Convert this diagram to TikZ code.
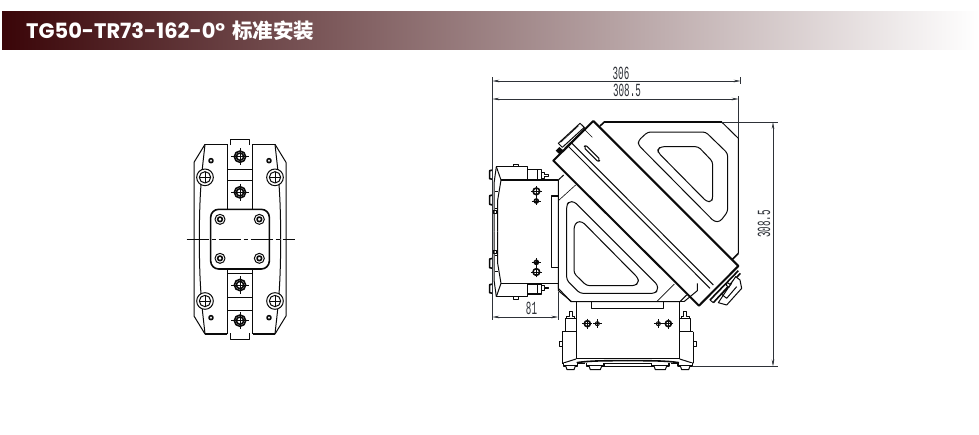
\documentclass[tikz,border=0pt]{standalone}
\usepackage{fontspec}
\setmainfont{Poppins}
\newfontfamily\cjk{Noto Sans CJK SC}
\newfontfamily\cad{Liberation Mono}
\usetikzlibrary{arrows.meta}
\definecolor{inkc}{HTML}{0A0A0A}
\definecolor{dimc}{HTML}{2E3238}
\definecolor{bandl}{HTML}{3A0508}
\newcommand\cadtxt[1]{\scalebox{.5}[1]{#1}}
\tikzset{
  thin line/.style={draw=inkc,line width=.6pt},
  mid line/.style={draw=inkc,line width=1pt},
  heavy line/.style={draw=inkc,line width=1.6pt},
  arm line/.style={draw=inkc,line width=2pt},
  dimline/.style={draw=dimc,line width=.6pt,{Stealth[length=7pt,width=2.6pt]}-{Stealth[length=7pt,width=2.6pt]}},
  extline/.style={draw=dimc,line width=.6pt},
  dimtext/.style={font=\cad\fontsize{18.5}{18.5}\selectfont,text=dimc,inner sep=0pt},
  zoneA/.style={shift={(170,130)},scale=1/3},
  zoneB/.style={shift={(545,110)},scale=1/3},
  zoneC/.style={shift={(485,150)},scale=1/3},
  zoneD/.style={shift={(485,220)},scale=1/3}
}
\begin{document}
\begin{tikzpicture}[x=1pt,y=-1pt,line join=round]
\useasboundingbox (0,0) rectangle (979,434);
\fill[white] (0,0) rectangle (979,434);
\shade[left color=bandl,right color=white] (2,11) rectangle (979,49);
\node[anchor=west,inner sep=0pt,text=white,font=\bfseries\fontsize{21}{21}\selectfont] (title) at (26,31) {TG50-TR73-162-0°\hspace{7pt}{\cjk\fontsize{20.5}{20.5}\selectfont 标准安装}};

%% ---------- front view ----------
\begin{scope}[zoneA]
  \draw[mid line] (182,45) -- (182,28) -- (238,28) -- (238,45);
  \draw[mid line] (182,610) -- (182,627) -- (238,627) -- (238,610);
  \draw[heavy line] (172,43) -- (172,238) (248,43) -- (248,238);
  \draw[heavy line] (172,417) -- (172,612) (248,417) -- (248,612);
  \draw[thin line] (172,118) -- (248,118) (172,503) -- (248,503);
  \draw[mid line] (172,152) -- (248,152) (172,430) -- (248,430) (172,540) -- (248,540);
  \foreach \sx/\ox in {1/0,-1/420}{
    \foreach \sy/\oy in {1/0,-1/655}{
      \begin{scope}[shift={(\ox,\oy)},xscale=\sx,yscale=\sy]
        \draw[heavy line] (172,43) -- (105,43);
        \draw[mid line] (105,43) -- (72,97) -- (72,327);
        \draw[mid line] (105,43) .. controls (98,110) and (88,170) .. (88,327);
        \draw[fill=white,mid line] (105,142) circle[radius=25];
        \draw[mid line] (105,142) circle[radius=17];
        \draw[thin line] (88,142) -- (122,142) (105,125) -- (105,159);
        \draw[heavy line] (123,92) circle[radius=6];
      \end{scope}
    }
  }
  \draw[heavy line,fill=white,rounded corners=8pt] (122,238) rectangle (298,417);
  \foreach \px/\py in {150/268,268/268,150/385,268/385}{
    \draw[mid line] (\px,\py) circle[radius=15];
    \draw[heavy line] (\px,\py) circle[radius=7];
  }
  \foreach \py in {80,187,465,572}{
    \draw[heavy line] (210,\py) circle[radius=17];
    \draw[heavy line] (210,\py) circle[radius=11];
    \draw[thin line] (184,\py) -- (236,\py) (210,\py-26) -- (210,\py+26);
  }
  \draw[draw=inkc,line width=.7pt,dash pattern=on 22pt off 3pt on 4pt off 3pt] (50,327) -- (375,327);
\end{scope}

%% ---------- side view: plates and arm ----------
\begin{scope}[zoneB]
  \draw[heavy line] (178,36) -- (530,36);
  \draw[mid line] (530,36) -- (580,85) -- (580,430);
  \draw[heavy line] (580,430) -- (560,450);
  \draw[heavy line] (178,36) -- (165,48);
  % upper window
  \draw[mid line,rounded corners=3pt] (308,66) -- (482,66) -- (548,130) -- (548,305) -- (525,335) -- (508,335) -- (280,105) -- (280,92) -- cycle;
  \draw[mid line,rounded corners=3pt] (348,110) -- (460,110) -- (503,155) -- (503,262) -- (500,275) -- (485,275) -- (340,128) -- (338,118) -- cycle;
  % lower plate
  \draw[mid line] (40,210) -- (56,195);
  \draw[mid line] (40,210) -- (40,535) -- (78,575) -- (405,575) -- (425,555);
  \draw[thin line] (40,272) -- (92,225) (335,575) -- (388,522);
  \draw[heavy line] (40,258) -- (20,258) -- (20,472) -- (40,472);
  \draw[heavy line] (140,575) -- (140,595) -- (355,595) -- (355,575);
  % lower window
  \draw[mid line,rounded corners=3pt] (88,275) -- (338,525) -- (338,540) -- (330,550) -- (105,550) -- (65,510) -- (65,285) -- (72,275) -- cycle;
  \draw[mid line,rounded corners=3pt] (112,335) -- (280,505) -- (280,518) -- (270,527) -- (125,527) -- (87,490) -- (87,350) -- (95,335) -- cycle;
  % arm
  \draw[arm line,fill=white] (145,33) -- (580,468) -- (462,587) -- (25,152) -- cycle;
  \draw[mid line] (71,110) -- (495,535);
  \draw[mid line] (81,100) -- (505,525);
  \draw[mid line] (59,115) -- (121,55);
  \draw[thin line] (118,58) -- (142,82);
  % slot
  \draw[mid line,rounded corners=2pt] (122,105) -- (166,149) -- (160,156) -- (116,112) -- cycle;
  % upper end plate
  \draw[mid line,fill=white] (105,40) -- (118,52) -- (52,112) -- (40,100) -- cycle;
  \draw[thin line] (100,48) -- (47,97);
  \fill[inkc] (43,111) -- (55,121) -- (44,133) -- (32,122) -- cycle;
  % lower end plate
  \draw[heavy line] (580,482) -- (495,570);
  \draw[heavy line] (586,490) -- (505,578);
  \draw[mid line] (495,570) -- (505,578);
  \draw[mid line,fill=white] (572,500) -- (585,510) -- (590,535) -- (545,585) -- (520,578) -- cycle;
  \draw[mid line] (560,520) -- (530,553) -- (545,565) -- (575,530);
  \draw[mid line,fill=white] (546,517) -- (556,524) -- (552,532) -- (544,526) -- cycle;
\end{scope}

%% ---------- side view: left module ----------
\begin{scope}[zoneC]
  \foreach \s/\o in {1/0,-1/490}{
    \begin{scope}[shift={(0,\o)},yscale=\s]
      \draw[heavy line] (34,50) -- (128,50) -- (128,90);
      \draw[heavy line] (48,90) -- (220,90);
      \draw[mid line] (34,50) -- (48,90);
      \draw[mid line] (85,50) -- (85,42) -- (100,42) -- (100,50);
      \draw[heavy line] (128,58) -- (170,58) -- (170,88) -- (128,88);
      \draw[mid line] (158,58) -- (158,88);
      \draw[mid line] (170,68) -- (178,68) -- (178,74) -- (190,74) -- (190,79) -- (178,79) -- (178,84) -- (170,84);
      \draw[heavy line] (23,60) -- (14,62) -- (14,86) -- (23,88);
      \draw[heavy line] (23,135) -- (14,137) -- (14,163) -- (23,165);
      \draw[mid line] (23,50) -- (23,245);
      \draw[mid line] (34,50) -- (27,100) -- (27,245);
      \draw[mid line] (48,90) -- (38,150) -- (38,245);
      \draw[mid line] (30,125) -- (40,125) (30,175) -- (40,175);
      \draw[mid line] (26,180) rectangle (33,190);
      \draw[heavy line] (154,124) circle[radius=10];
      \draw[thin line] (138,124) -- (170,124) (154,108) -- (154,140);
      \draw[heavy line] (154,153) circle[radius=6];
      \draw[thin line] (140,153) -- (168,153) (154,140) -- (154,166);
    \end{scope}
  }
\end{scope}

%% ---------- side view: base ----------
\begin{scope}[zoneD]
  \foreach \s/\o in {1/0,-1/857}{
    \begin{scope}[shift={(\o,0)},xscale=\s]
      \draw[mid line] (220,190) -- (220,212) -- (260,245);
      \draw[heavy line] (260,245) -- (428.5,245);
      \draw[mid line] (273,245) -- (273,418);
      \draw[mid line] (240,295) rectangle (273,335);
      \draw[mid line] (245,295) -- (245,288) -- (252,288) -- (252,275) -- (262,275) -- (262,288) -- (268,288) -- (268,295);
      \draw[mid line] (232,335) -- (273,335);
      \draw[mid line] (232,335) -- (232,430);
      \draw[mid line] (232,365) -- (223,365) -- (223,380) -- (232,380);
      \draw[mid line] (232,430) -- (273,417);
      \draw[heavy line] (232,431) -- (300,431);
      \draw[thin line] (273,415) -- (428.5,415);
      \draw[heavy line] (275,428) .. controls (315,422) and (360,422) .. (428.5,422);
      \draw[thin line] (355,431) -- (428.5,431);
      \draw[thin line] (355,438) -- (428.5,438);
      \foreach \a/\b in {235/278,305/357}{
        \draw[heavy line,fill=white] (\a,428) -- (\a,438) -- (\b,438) -- (\b,428);
        \draw[mid line,fill=white] (\a+7,438) -- (\a+11,449) -- (\b-11,449) -- (\b-7,438);
      }
      \draw[heavy line] (307,311) circle[radius=9];
      \draw[thin line] (292,311) -- (322,311) (307,296) -- (307,326);
      \draw[mid line] (337,311) circle[radius=6];
      \draw[thin line] (324,311) -- (351,311) (337,298) -- (337,324);
    \end{scope}
  }
\end{scope}

%% ---------- dimensions ----------
\coordinate (leftA) at (492.3,81);
\coordinate (rightA) at (740.7,81);
\coordinate (leftB) at (492.3,99);
\coordinate (rightB) at (738.7,99);
\coordinate (leftC) at (492.3,317);
\coordinate (rightC) at (558.3,317);
\coordinate (topD) at (773,122);
\coordinate (botD) at (773,366.5);
\draw[extline] (492.3,77) -- (492.3,320);
\draw[extline] (740.7,77) -- (740.7,84);
\draw[extline] (738.7,96) -- (738.7,138);
\draw[extline] (558.3,292) -- (558.3,320);
\draw[extline] (722,122) -- (778,122);
\draw[extline] (693,366.5) -- (778,366.5);
\draw[dimline] (leftA) -- (rightA);
\draw[dimline] (leftB) -- (rightB);
\draw[dimline] (leftC) -- (rightC);
\draw[dimline] (topD) -- (botD);
\node[dimtext] (labA) at (621,73) {\cadtxt{306}};
\node[dimtext] (labB) at (627,90.5) {\cadtxt{308.5}};
\node[dimtext] (labC) at (531.5,308.5) {\cadtxt{81}};
\node[dimtext,rotate=90] (labD) at (764,224) {\cadtxt{308.5}};
\end{tikzpicture}
\end{document}
